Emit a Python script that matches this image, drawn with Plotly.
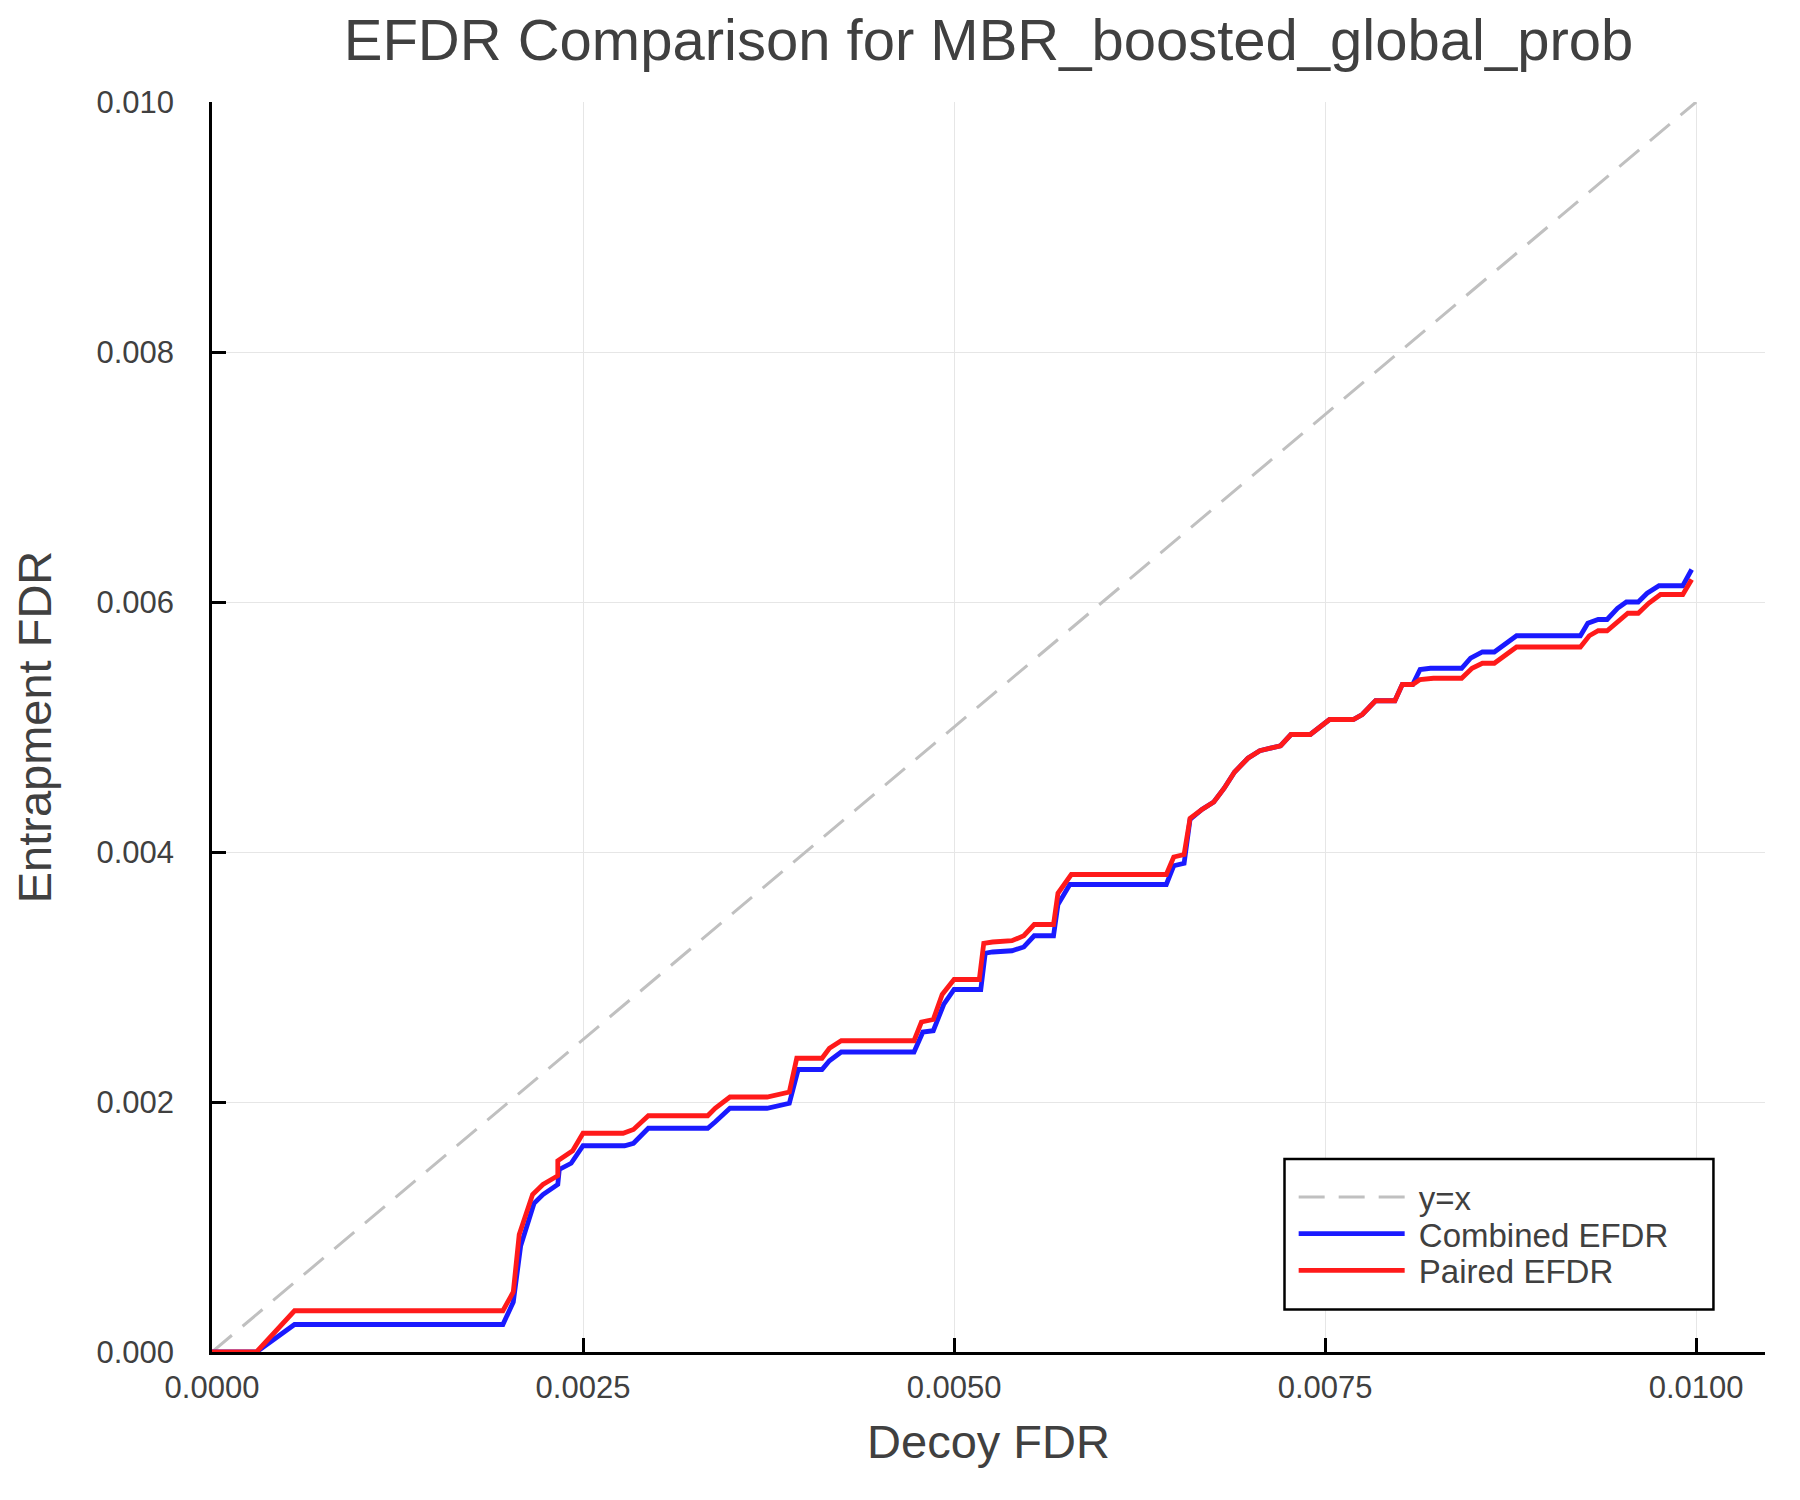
import plotly.graph_objects as go

# y = x reference line
ref_x = [0.0, 0.01]
ref_y = [0.0, 0.01]

# Combined EFDR
combined_x = [0.0, 0.0003, 0.000556, 0.00196, 0.00203, 0.00208, 0.00217, 0.00223, 0.00233, 0.00234,
              0.00242, 0.0025, 0.00278, 0.00284, 0.00294, 0.00334, 0.00339, 0.00349, 0.00374, 0.00389,
              0.00395, 0.00411, 0.00416, 0.00424, 0.00473, 0.00479, 0.00486, 0.00493, 0.0050, 0.00518,
              0.00521, 0.00526, 0.00539, 0.00547, 0.00554, 0.00567, 0.0057, 0.00578, 0.00643, 0.00648,
              0.00655, 0.00659, 0.00667, 0.00675, 0.00682, 0.00689, 0.00698, 0.00706, 0.0072, 0.00727,
              0.0074, 0.00747, 0.00753, 0.00769, 0.00775, 0.00784, 0.00797, 0.00802, 0.00809, 0.00814,
              0.00821, 0.00842, 0.00848, 0.00856, 0.00864, 0.00879, 0.00922, 0.00927, 0.00934, 0.0094,
              0.00947, 0.00953, 0.00961, 0.00967, 0.00975, 0.00991, 0.00997]
combined_y = [0.0, 0.0, 0.00022, 0.00022, 0.0004, 0.00085, 0.00119, 0.00126, 0.00134, 0.00146,
              0.00151, 0.00165, 0.00165, 0.00167, 0.00179, 0.00179, 0.00184, 0.00195, 0.00195, 0.00199,
              0.00226, 0.00226, 0.00233, 0.0024, 0.0024, 0.00256, 0.00257, 0.00278, 0.0029, 0.0029,
              0.00319, 0.0032, 0.00321, 0.00324, 0.00333, 0.00333, 0.00358, 0.00374, 0.00374, 0.00389,
              0.00391, 0.00426, 0.00434, 0.0044, 0.00451, 0.00464, 0.00475, 0.00481, 0.00485, 0.00494,
              0.00494, 0.00501, 0.00506, 0.00506, 0.0051, 0.00521, 0.00521, 0.00534, 0.00534, 0.00546,
              0.00547, 0.00547, 0.00555, 0.0056, 0.0056, 0.00573, 0.00573, 0.00583, 0.00586, 0.00586,
              0.00595, 0.006, 0.006, 0.00607, 0.00613, 0.00613, 0.00626]

# Paired EFDR
paired_x = [0.0, 0.0003, 0.000556, 0.00196, 0.00203, 0.00207, 0.00216, 0.00223, 0.00233, 0.00233,
            0.00243, 0.0025, 0.00277, 0.00284, 0.00294, 0.00334, 0.00339, 0.00349, 0.00374, 0.00389,
            0.00394, 0.00411, 0.00416, 0.00424, 0.00473, 0.00478, 0.00486, 0.00492, 0.0050, 0.00517,
            0.0052, 0.00526, 0.00539, 0.00547, 0.00554, 0.00567, 0.0057, 0.00579, 0.00643, 0.00648,
            0.00655, 0.00659, 0.00667, 0.00675, 0.00682, 0.00689, 0.00698, 0.00706, 0.0072, 0.00727,
            0.0074, 0.00747, 0.00753, 0.00769, 0.00775, 0.00784, 0.00797, 0.00802, 0.00809, 0.00814,
            0.00823, 0.00842, 0.00849, 0.00856, 0.00864, 0.00879, 0.00922, 0.00928, 0.00934, 0.0094,
            0.00948, 0.00954, 0.00961, 0.00968, 0.00976, 0.00991, 0.00997]
paired_y = [0.0, 0.0, 0.00033, 0.00033, 0.00048, 0.00094, 0.00126, 0.00134, 0.00141, 0.00153,
            0.00161, 0.00175, 0.00175, 0.00178, 0.00189, 0.00189, 0.00195, 0.00204, 0.00204, 0.00208,
            0.00235, 0.00235, 0.00243, 0.00249, 0.00249, 0.00264, 0.00266, 0.00286, 0.00298, 0.00298,
            0.00327, 0.00328, 0.00329, 0.00333, 0.00342, 0.00342, 0.00367, 0.00382, 0.00382, 0.00396,
            0.00398, 0.00427, 0.00434, 0.0044, 0.00451, 0.00464, 0.00475, 0.00481, 0.00485, 0.00494,
            0.00494, 0.00501, 0.00506, 0.00506, 0.0051, 0.00521, 0.00521, 0.00534, 0.00534, 0.00538,
            0.00539, 0.00539, 0.00547, 0.00551, 0.00551, 0.00564, 0.00564, 0.00573, 0.00577, 0.00577,
            0.00585, 0.00591, 0.00591, 0.00599, 0.00606, 0.00606, 0.00618]

x_ticks = [0.0, 0.0025, 0.005, 0.0075, 0.01]
y_ticks = [0.0, 0.002, 0.004, 0.006, 0.008, 0.010]

font_family = "Liberation Sans, Arial, sans-serif"
text_color = "#404040"
gap = "\u00a0"  # small space between legend line and label

fig = go.Figure()
fig.add_trace(go.Scatter(x=ref_x, y=ref_y, mode="lines", name=gap + "y=x", legend="legend",
                         line=dict(color="#c0c0c0", width=3, dash="26px,14px")))
fig.add_trace(go.Scatter(x=combined_x, y=combined_y, mode="lines", name=gap + "Combined EFDR",
                         legend="legend2", line=dict(color="#1a1aff", width=4.8)))
fig.add_trace(go.Scatter(x=paired_x, y=paired_y, mode="lines", name=gap + "Paired EFDR",
                         legend="legend3", line=dict(color="#ff1a1a", width=4.8)))

axis_style = dict(
    showline=True, linecolor="black", linewidth=2.5,
    ticks="inside", ticklen=14, tickwidth=2.5, tickcolor="black",
    showgrid=True, gridcolor="#e6e6e6", gridwidth=1,
    zeroline=False, mirror=False,
    tickfont=dict(size=31, color=text_color, family=font_family),
)

# one legend per entry so the rows can sit as tightly as in the original
legend_style = dict(x=0.6965, xanchor="left", yanchor="middle",
                    bgcolor="rgba(0,0,0,0)", borderwidth=0,
                    font=dict(size=33, color=text_color, family=font_family),
                    itemwidth=106)

fig.update_layout(
    width=1800, height=1500,
    paper_bgcolor="white", plot_bgcolor="white",
    margin=dict(l=204, r=43, t=94, b=156),
    font=dict(family=font_family, color=text_color),
    title=dict(text="EFDR Comparison for MBR_boosted_global_prob",
               x=0.5, xref="paper", xanchor="center",
               y=1 - 32 / 1500, yref="container", yanchor="middle",
               font=dict(size=58, color=text_color, family=font_family)),
    xaxis=dict(range=[0, 0.010464], tickvals=x_ticks, tickformat=".4f",
               title=dict(text="Decoy FDR", font=dict(size=47, color=text_color), standoff=22),
               ticklabelstandoff=6, **axis_style),
    yaxis=dict(range=[0, 0.010], tickvals=y_ticks, tickformat=".3f",
               title=dict(text="Entrapment FDR", font=dict(size=47, color=text_color), standoff=37),
               ticklabelstandoff=29, **axis_style),
    legend=dict(y=0.124, **legend_style),
    legend2=dict(y=0.0946, **legend_style),
    legend3=dict(y=0.0652, **legend_style),
    shapes=[dict(type="rect", xref="paper", yref="paper",
                 x0=0.6906, x1=0.9668, y0=0.034, y1=0.1544,
                 line=dict(color="black", width=2.5), fillcolor="white", layer="above")],
    showlegend=True,
)

fig.write_html("out.html")
